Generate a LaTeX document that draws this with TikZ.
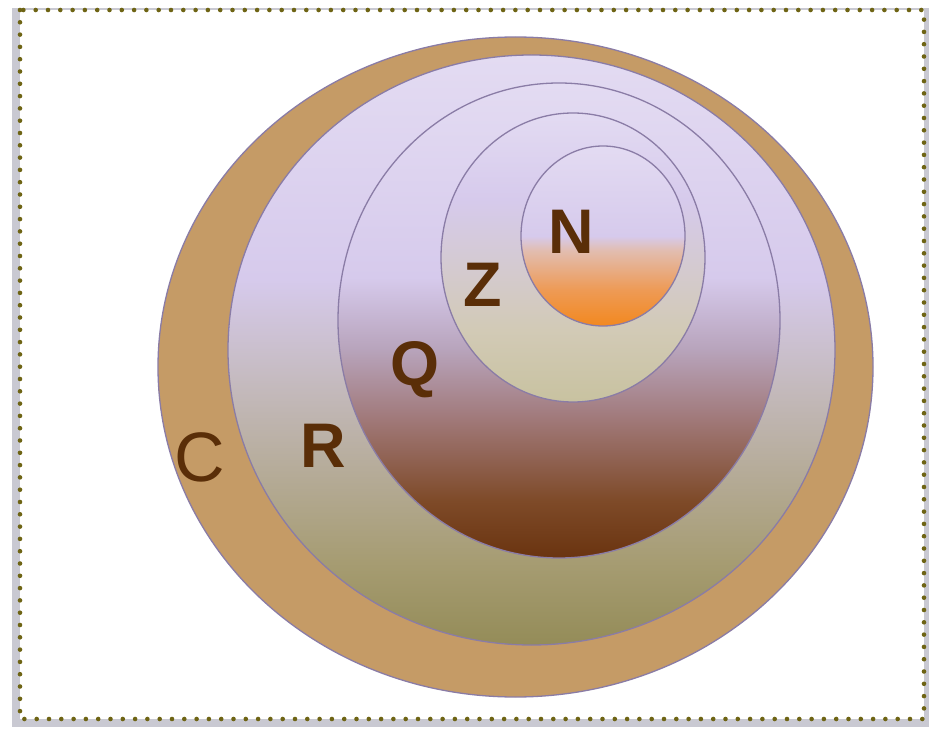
\documentclass[tikz,border=0pt]{standalone}
\usepackage{fontspec}
\setmainfont{Liberation Sans}
\usepackage{xcolor}
\usepackage{tikz}
\usetikzlibrary{shapes.geometric}

\definecolor{frameol}{HTML}{6E6414}
\definecolor{shadowgr}{HTML}{C9C9D2}
\definecolor{ringline}{HTML}{8A7CA6}
\definecolor{labelbr}{HTML}{5A2E08}
\definecolor{cfill}{HTML}{C59B66}
\definecolor{lavtop}{HTML}{E3DBF2}
\definecolor{lavmid}{HTML}{D6CAEC}
\definecolor{rgrey}{HTML}{C2B8B8}
\definecolor{rolive}{HTML}{A69C72}
\definecolor{rbot}{HTML}{948C58}
\definecolor{qmauve}{HTML}{B8A4BC}
\definecolor{qrose}{HTML}{A07878}
\definecolor{qbrown}{HTML}{7E4A28}
\definecolor{qbot}{HTML}{6A3410}
\definecolor{zbeige}{HTML}{D2CAB6}
\definecolor{zbot}{HTML}{C8C2A0}
\definecolor{npeach}{HTML}{E2BDB0}
\definecolor{norange}{HTML}{EE9A55}
\definecolor{nbot}{HTML}{F2881F}

\pgfdeclareverticalshading{Rshade}{100bp}{
  color(0bp)=(rbot); color(25bp)=(rbot); color(32bp)=(rolive);
  color(46bp)=(rgrey); color(56bp)=(lavmid); color(75bp)=(lavtop);
  color(100bp)=(lavtop)}
\pgfdeclareverticalshading{Qshade}{100bp}{
  color(0bp)=(qbot); color(25bp)=(qbot); color(31bp)=(qbrown);
  color(39.5bp)=(qrose); color(47bp)=(qmauve); color(54.5bp)=(lavmid);
  color(75bp)=(lavtop); color(100bp)=(lavtop)}
\pgfdeclareverticalshading{Zshade}{100bp}{
  color(0bp)=(zbot); color(25bp)=(zbot); color(37.5bp)=(zbeige);
  color(60bp)=(lavmid); color(75bp)=(lavtop); color(100bp)=(lavtop)}
\pgfdeclareverticalshading{Nshade}{100bp}{
  color(0bp)=(nbot); color(25bp)=(nbot); color(35bp)=(norange);
  color(46bp)=(npeach); color(50bp)=(lavmid); color(75bp)=(lavtop);
  color(100bp)=(lavtop)}

\begin{document}
\begin{tikzpicture}[x=1pt, y=-1pt,
    ring/.style={ellipse, draw=ringline, line width=1.3pt, inner sep=0pt},
    lbl/.style={text=labelbr, font=\fontsize{63}{63}\selectfont\bfseries,
                inner sep=0pt, anchor=center}]
  \useasboundingbox (0,0) rectangle (932,730);
  \fill[shadowgr] (12,8) rectangle (929,727);
  \fill[white] (20,10) rectangle (924,719);
  \draw[frameol, line width=4.6pt, line cap=round, dash pattern=on 0pt off 12.3pt]
    (20,10) rectangle (924,719);

  \node[ring, fill=cfill, minimum width=715pt, minimum height=660pt] (C) at (515.5,367) {};
  \node[ring, shading=Rshade, minimum width=607pt, minimum height=590pt] (R) at (531.5,350) {};
  \node[ring, shading=Qshade, minimum width=442pt, minimum height=475pt] (Q) at (559,320.5) {};
  \node[ring, shading=Zshade, minimum width=264pt, minimum height=289pt] (Z) at (573,257.5) {};
  \node[ring, shading=Nshade, minimum width=164pt, minimum height=180pt] (N) at (603,236) {};

  \node[lbl] (Nlbl) at (571,232) {N};
  \node[lbl] (Zlbl) at (483,285) {Z};
  \node[lbl] (Qlbl) at (415,370) {Q};
  \node[lbl] (Rlbl) at (323,446) {R};
  \node[lbl, font=\fontsize{70}{70}\selectfont] (Clbl) at (200,457) {C};
\end{tikzpicture}
\end{document}
